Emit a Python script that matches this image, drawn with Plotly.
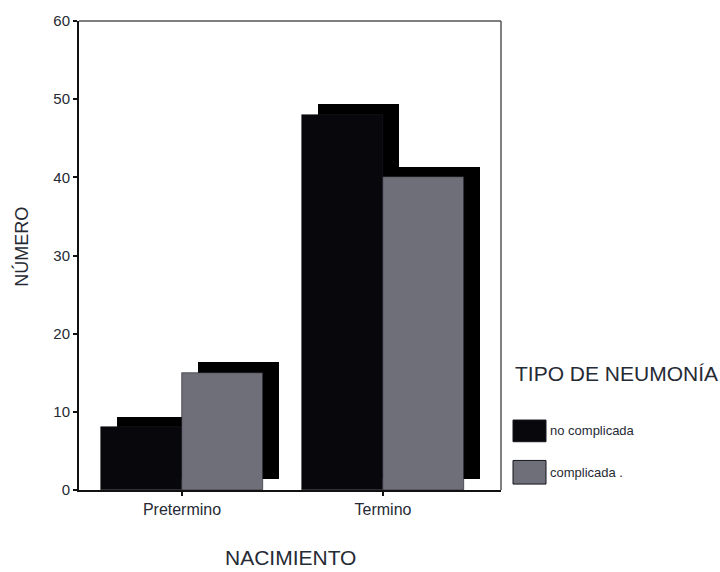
import plotly.graph_objects as go

# Data
categories = ["Pretermino", "Termino"]
series_names = ["no complicada", "complicada"]
no_complicada = [8, 48]
complicada = [15, 40]
y_ticks = [0, 10, 20, 30, 40, 50, 60]

FONT = "Liberation Sans, Arial, sans-serif"
TEXT = "#262a34"
COLORS = ["#08080c", "#6f6f7a"]
SHADOW = "#000000"

# plot geometry (pixels) used to convert the 3D depth offset into data units
W, H = 720, 572
L, R, T, B = 79, 219, 14, 82
plot_w = W - L - R
plot_h = H - T - B
x_range = [-0.5124, 1.587]
y_range = [0, 60]
px_x = plot_w / (x_range[1] - x_range[0])
px_y = plot_h / (y_range[1] - y_range[0])
depth_dx = 16 / px_x
depth_dy = 11 / px_y
bar_w = 81 / px_x

xpos = list(range(len(categories)))
series = [no_complicada, complicada]
offsets = [-bar_w, 0.0]

fig = go.Figure()
for name, vals, off, col in zip(series_names, series, offsets, COLORS):
    # back face (depth) of the 3D bar
    fig.add_trace(go.Bar(
        x=xpos, y=vals, base=[depth_dy] * len(vals),
        width=bar_w, offset=off + depth_dx,
        marker=dict(color=SHADOW, line=dict(width=0)),
        showlegend=False, hoverinfo="skip",
    ))
    # front face
    fig.add_trace(go.Bar(
        x=xpos, y=vals, width=bar_w, offset=off, name=name,
        marker=dict(color=col, line=dict(color="#1a1a22", width=0.6)),
        showlegend=False,
    ))

# legend drawn as swatches + labels
leg_title_y = 372
swatch_rows = [(419, 441), (460, 484)]
shapes = []
annotations = []
for (y0, y1), name, col in zip(swatch_rows, series_names, COLORS):
    shapes.append(dict(
        type="rect", xref="paper", yref="paper",
        x0=(513 - L) / plot_w, x1=(546 - L) / plot_w,
        y0=(H - B - y1) / plot_h, y1=(H - B - y0) / plot_h,
        fillcolor=col, line=dict(color="#15151c", width=1),
    ))
    annotations.append(dict(
        x=(548 - L) / plot_w, y=(H - B - (y0 + y1) / 2) / plot_h,
        xref="paper", yref="paper", xanchor="left", yanchor="middle",
        text=name + (" ." if name == "complicada" else ""), showarrow=False,
        font=dict(family=FONT, size=13, color=TEXT),
    ))
annotations.append(dict(
    x=(513 - L) / plot_w, y=(H - B - leg_title_y) / plot_h,
    xref="paper", yref="paper", xanchor="left", yanchor="middle",
    text="TIPO DE NEUMONÍA", showarrow=False,
    font=dict(family=FONT, size=21, color=TEXT),
))
# axis titles
annotations.append(dict(
    x=(22 - L) / plot_w, y=(H - B - 243) / plot_h,
    xref="paper", yref="paper", xanchor="center", yanchor="middle",
    text="NÚMERO", textangle=-90, showarrow=False,
    font=dict(family=FONT, size=18, color=TEXT),
))
annotations.append(dict(
    x=(290 - L) / plot_w, y=(H - B - 559) / plot_h,
    xref="paper", yref="paper", xanchor="center", yanchor="middle",
    text="NACIMIENTO", showarrow=False,
    font=dict(family=FONT, size=21, color=TEXT),
))

# top and right frame lines in grey
shapes.append(dict(type="line", xref="paper", yref="paper", x0=0, x1=1, y0=1, y1=1,
                   line=dict(color="#555558", width=1.5)))
shapes.append(dict(type="line", xref="paper", yref="paper", x0=1, x1=1, y0=0, y1=1,
                   line=dict(color="#555558", width=1.5)))

fig.update_layout(
    width=W, height=H,
    margin=dict(l=L, r=R, t=T, b=B),
    paper_bgcolor="white", plot_bgcolor="white",
    barmode="overlay", bargap=0,
    showlegend=False,
    font=dict(family=FONT, color=TEXT),
    shapes=shapes, annotations=annotations,
    xaxis=dict(
        range=x_range, tickmode="array", tickvals=xpos, ticktext=categories,
        showgrid=False, zeroline=False, showline=True, linecolor="#111", linewidth=2,
        ticks="outside", ticklen=4, tickwidth=2, tickcolor="#111",
        tickfont=dict(family=FONT, size=16, color=TEXT),
    ),
    yaxis=dict(
        range=y_range, tickmode="array", tickvals=y_ticks,
        showgrid=False, zeroline=False, showline=True, linecolor="#111", linewidth=2,
        ticks="outside", ticklen=4, tickwidth=2, tickcolor="#111",
        tickfont=dict(family=FONT, size=15, color=TEXT),
    ),
)

fig.write_html("out.html")
